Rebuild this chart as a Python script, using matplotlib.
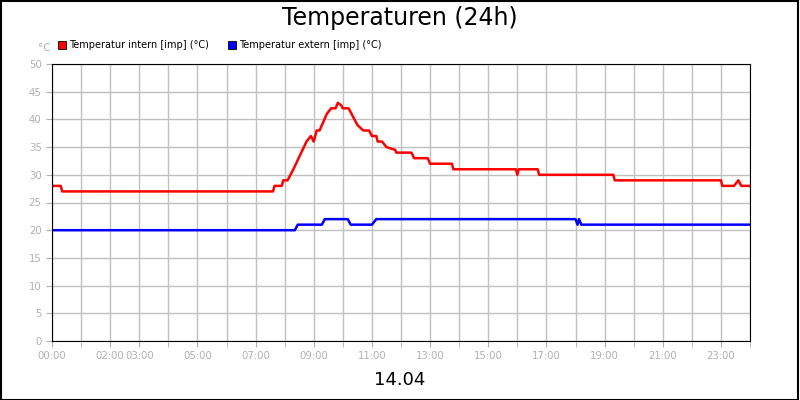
import matplotlib
matplotlib.use("Agg")

import matplotlib.pyplot as plt
from matplotlib.patches import Rectangle

# hours since 00:00, values in °C
intern_t = [0, 0.3, 0.35, 7.6, 7.65, 7.9, 7.95, 8.1, 8.3, 8.75, 8.9, 8.95, 9.0, 9.1, 9.2,
            9.45, 9.6, 9.75, 9.83, 9.95, 10.0, 10.2, 10.3, 10.5, 10.7, 10.9, 11.0, 11.15,
            11.2, 11.35, 11.5, 11.8, 11.84, 12.36, 12.45, 12.92, 13.0, 13.75, 13.8,
            15.95, 16.0, 16.05, 16.7, 16.75, 19.3, 19.35, 23.0, 23.05, 23.45, 23.6, 23.7, 24.0]
intern_v = [28, 28, 27, 27, 28, 28, 29, 29, 31, 36, 37, 36.5, 36, 38, 38,
            41, 42, 42, 43, 42.5, 42, 42, 41, 39, 38, 38, 37, 37,
            36, 36, 35, 34.5, 34, 34, 33, 33, 32, 32, 31,
            31, 30, 31, 31, 30, 30, 29, 29, 28, 28, 29, 28, 28]

extern_t = [0, 8.35, 8.45, 9.28, 9.38, 10.17, 10.27, 11.0, 11.15, 18.0, 18.07, 18.12, 18.2, 24.0]
extern_v = [20, 20, 21, 21, 22, 22, 21, 21, 22, 22, 21, 22, 21, 21]

tick_hours = [0, 2, 3, 5, 7, 9, 11, 13, 15, 17, 19, 21, 23]
tick_labels = [f"{h:02d}:00" for h in tick_hours]

fig = plt.figure(figsize=(8, 4), dpi=100)
fig.patches.append(Rectangle((0.001, 0.001), 0.997, 0.997, transform=fig.transFigure,
                             fill=False, edgecolor="black", linewidth=1.5))
ax = fig.add_axes([0.065, 0.1475, 0.8725, 0.6925])

grey = "#b0b0b0"
ax.plot(intern_t, intern_v, color="#ff0000", linewidth=1.8)
ax.plot(extern_t, extern_v, color="#0000ff", linewidth=1.8)

ax.set_xlim(0, 24)
ax.set_ylim(0, 50)
ax.set_yticks(range(0, 51, 5))
ax.set_xticks(range(0, 25), minor=True)
ax.set_xticks(tick_hours)
ax.set_xticklabels(tick_labels)
ax.grid(True, which="both", color="#c0c0c0", linewidth=1)
ax.set_axisbelow(True)
ax.tick_params(axis="both", which="both", colors=grey, labelcolor=grey, labelsize=7.3,
               direction="out", length=4)
for s in ax.spines.values():
    s.set_color("black")

fig.text(0.5, 0.955, "Temperaturen (24h)", ha="center", va="center", fontsize=17)
fig.text(0.5, 0.05, "14.04", ha="center", va="center", fontsize=13)
fig.text(0.047, 0.88, "°C", ha="left", va="center", fontsize=7.5, color=grey)

fig.patches.append(Rectangle((0.0725, 0.878), 0.01, 0.02, transform=fig.transFigure,
                             facecolor="#ff0000", edgecolor="black", linewidth=0.6))
fig.text(0.086, 0.888, "Temperatur intern [imp] (°C)", va="center", fontsize=7)
fig.patches.append(Rectangle((0.2855, 0.878), 0.01, 0.02, transform=fig.transFigure,
                             facecolor="#0000ff", edgecolor="black", linewidth=0.6))
fig.text(0.299, 0.888, "Temperatur extern [imp] (°C)", va="center", fontsize=7)

fig.savefig("out.png", dpi=100)
